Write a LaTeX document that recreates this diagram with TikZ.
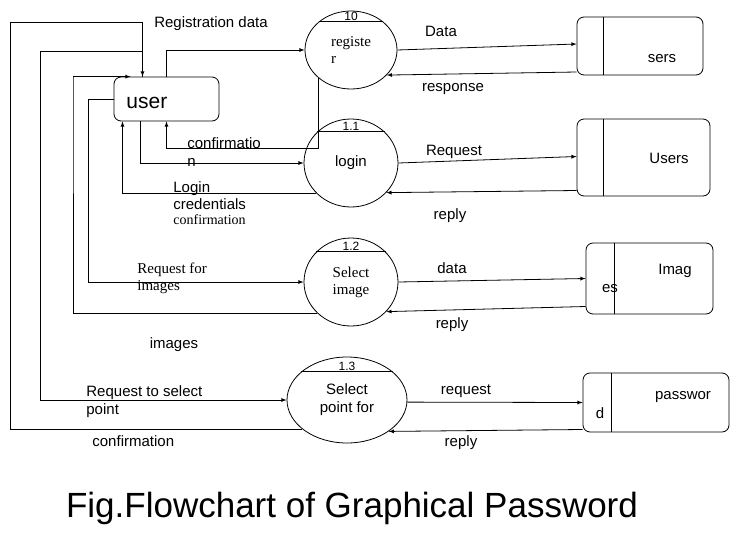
\documentclass[tikz,border=0pt]{standalone}
\usepackage{fontspec}
\setmainfont{Liberation Sans}
\newfontfamily\timesfont{Liberation Serif}
\usetikzlibrary{shapes.geometric,arrows,positioning}

\begin{document}
\begin{tikzpicture} [
    x = 1pt, y = -1pt,
    line width = 0.8pt,
    process/.style = { draw, ellipse, inner sep = 0, minimum width = 94pt, minimum height = 88pt },
    store/.style = { draw, rounded corners = 7pt, inner sep = 0 },
    lbl/.style = { font = \fontsize{15}{18}\selectfont, inner sep = 0, align = left },
    serif/.style = { font = \timesfont\fontsize{15}{17}\selectfont, inner sep = 0, align = left },
    num/.style = { font = \fontsize{12}{12}\selectfont, inner sep = 1pt }
    ]

    \useasboundingbox (0,0) rectangle (736,536);

    \node [draw, rounded corners = 7pt, minimum width = 105pt, minimum height = 44pt] (user) at (166.5,99) {};
    \node [font = \fontsize{21}{21}\selectfont, inner sep = 0, anchor = west] (usertxt) at (126,103) {user};

    \node [process, minimum width = 92pt, minimum height = 78pt, serif] (reg) at (351,50) {registe\\r};
    \node [process, lbl] (login) at (351,163) {login};
    \node [process, serif, align = center] (selimg) at (351,282) {Select\\image};
    \node [process, lbl, align = center, minimum width = 120pt, minimum height = 86pt] (selpt) at (347,400) {Select\\point for};

    \draw (reg.41) -- node [num, above] (n10) {10} (reg.139);
    \draw (login.43) -- node [num, above] (n11) {1.1} (login.137);
    \draw (selimg.41) -- node [num, above] (n12) {1.2} (selimg.139);
    \draw (selpt.32) -- node [num, above] (n13) {1.3} (selpt.148);

    \node [store, minimum width = 126pt, minimum height = 58pt] (users1) at (640,46) {};
    \node [store, minimum width = 133pt, minimum height = 77pt] (users2) at (643.5,157.5) {};
    \node [store, minimum width = 127pt, minimum height = 71pt] (images) at (649.5,278.5) {};
    \node [store, minimum width = 146pt, minimum height = 59pt] (passwd) at (656,402.5) {};
    \foreach \s/\d in {users1/27, users2/27, images/29, passwd/29}
        \draw ([xshift=\d pt]\s.north west) -- ([xshift=\d pt]\s.south west);

    \node [lbl] (t1) at (662,59) {sers};
    \node [lbl] (t2) at (669,158) {Users};
    \node [lbl] (t3) at (675,271) {Imag};
    \node [lbl] (t4) at (610,289) {es};
    \node [lbl] (t5) at (683,397) {passwor};
    \node [lbl] (t6) at (600,413) {d};

    \draw [-latex] (reg.east) -- ([yshift=2pt]users1.west);
    \draw [-latex] ([yshift=-26pt]users1.west) -- (reg.-35);
    \draw [-latex] (login.east) -- ([yshift=1pt]users2.west);
    \draw [-latex] ([yshift=-33pt]users2.west) -- (login.-40);
    \draw [-latex] (selimg.east) -- (images.west);
    \draw [-latex] ([yshift=-28pt]images.west) -- (selimg.-40);
    \draw [-latex] (selpt.-2) -- (passwd.west);
    \draw [-latex] ([yshift=-27pt]passwd.west) -- (selpt.-37);

    \node [lbl] (l1) at (441,31) {Data};
    \node [lbl] (l2) at (453,89) {response};
    \node [lbl] (l3) at (454,152) {Request};
    \node [lbl] (l4) at (450,216) {reply};
    \node [lbl] (l5) at (452,268) {data};
    \node [lbl] (l6) at (452,325) {reply};
    \node [lbl] (l7) at (466,391) {request};
    \node [lbl] (l8) at (461,443) {reply};

    \coordinate (r1) at (10,22);
    \coordinate (r2) at (40,51);
    \coordinate (r3) at (73,76);
    \coordinate (r4) at (88,282);

    \draw [-latex] (user.north) |- (reg.west);
    \draw [-latex] (reg.221) |- ([yshift=-27pt]user.south) -- (user.south);
    \draw [-latex] ([xshift=-26pt]user.south) |- (login.west);
    \draw [-latex] (login.221) -| ([xshift=-44pt]user.south);
    \draw [-latex] (user.west) -| (r4) -- (selimg.west);
    \draw [-latex] (selimg.223) -| (r3) |- ([xshift=-36pt]user.north);
    \draw [-latex] ([xshift=-24pt]user.north) |- (r2) |- (selpt.west);
    \draw [-latex] (selpt.213) -| (r1) -| ([xshift=-24pt]user.north);

    \node [lbl] (l9) at (211,24) {Registration data};
    \node [lbl, anchor = west] (l10) at (187,152) {confirmatio\\n};
    \node [lbl, anchor = west, font = \fontsize{15}{17}\selectfont] (l11) at (173,196) {Login\\credentials};
    \node [serif, anchor = west, font = \timesfont\fontsize{14}{16}\selectfont] (l12) at (173,220) {confirmation};
    \node [serif, anchor = west] (l13) at (137,278) {Request for\\images};
    \node [lbl] (l14) at (174,345) {images};
    \node [lbl, anchor = west] (l15) at (86,402) {Request to select\\point};
    \node [lbl, anchor = west] (l16) at (92,441) {confirmation};

    \node [font = \fontsize{35}{40}\selectfont] (caption) at (352,508) {Fig.Flowchart of Graphical Password};

\end{tikzpicture}
\end{document}
